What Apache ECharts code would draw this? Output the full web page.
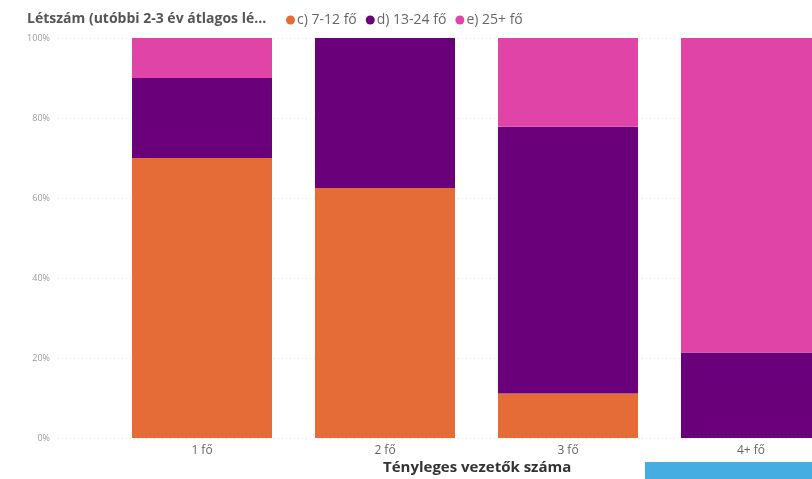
<!DOCTYPE html>
<html>
<head>
<meta charset="utf-8">
<script src="https://cdn.jsdelivr.net/npm/echarts@6/dist/echarts.min.js"></script>
<style>
  html, body { margin: 0; padding: 0; background: #fff; }
  #chart { width: 812px; height: 479px; }
</style>
</head>
<body>
<div id="chart"></div>
<script>
// Share of each headcount band per number of actual managers (100% stacked)
const categories = ['1 fő', '2 fő', '3 fő', '4+ fő'];
const seriesNames = ['c) 7-12 fő', 'd) 13-24 fő', 'e) 25+ fő'];
const band712 = [70, 62.5, 11.1, 0];
const band1324 = [20, 37.5, 66.7, 21.4];
const band25plus = [10, 0, 22.2, 78.6];
const yTicks = [0, 20, 40, 60, 80, 100];

const colors = ['#E66C37', '#6B007B', '#E044A7'];
const values = [band712, band1324, band25plus];
const font = '"Open Sans", "Noto Sans", sans-serif';

const chart = echarts.init(document.getElementById('chart'), null, { renderer: 'canvas' });

chart.setOption({
  animation: false,
  color: colors,
  textStyle: { fontFamily: font },
  title: {
    text: 'Létszám (utóbbi 2-3 év átlagos lé...',
    left: 22, top: 7,
    textStyle: { fontSize: 14, fontWeight: 'bold', color: '#555', fontFamily: font }
  },
  legend: {
    left: 281, top: 8,
    icon: 'circle', itemWidth: 9, itemHeight: 9, itemGap: 9,
    textStyle: { fontSize: 14, color: '#666', padding: [0, 0, 0, -3] },
    data: seriesNames
  },
  grid: [
    // axis labels and dotted gridlines span the full width
    { left: 58, right: 0, top: 38, bottom: 41, outerBoundsMode: 'none' },
    // plot area for the columns (last column runs past the right edge)
    { left: 110.5, width: 732, top: 38, bottom: 41, outerBoundsMode: 'none' }
  ],
  xAxis: [
    { gridIndex: 0, type: 'value', show: false, min: 0, max: 1 },
    {
      gridIndex: 1, type: 'category', data: categories,
      axisLine: { show: false }, axisTick: { show: false },
      axisLabel: { fontSize: 12, color: '#666', margin: 7 }
    }
  ],
  yAxis: [
    {
      gridIndex: 0, type: 'value', min: 0, max: 100, interval: 20,
      axisLine: { show: false }, axisTick: { show: false },
      axisLabel: { fontSize: 9, color: '#999', margin: 8, formatter: v => yTicks.includes(v) ? v + '%' : '' },
      splitLine: { show: true, lineStyle: { color: '#e4e4e4', type: [1, 3], width: 1 } }
    },
    {
      gridIndex: 1, type: 'value', min: 0, max: 100, show: false
    }
  ],
  series: seriesNames.map((name, i) => ({
    name,
    type: 'bar',
    stack: 'share',
    xAxisIndex: 1, yAxisIndex: 1,
    barWidth: 140,
    itemStyle: { color: colors[i] },
    data: values[i]
  })),
  graphic: [
    {
      type: 'text', left: 383, top: 460,
      style: { text: 'Tényleges vezetők száma', font: 'bold 15px ' + font, fill: '#333' }
    },
    {
      type: 'rect', shape: { x: 645, y: 462, width: 167, height: 17 },
      style: { fill: '#45ADDF' }
    }
  ]
});
</script>
</body>
</html>
